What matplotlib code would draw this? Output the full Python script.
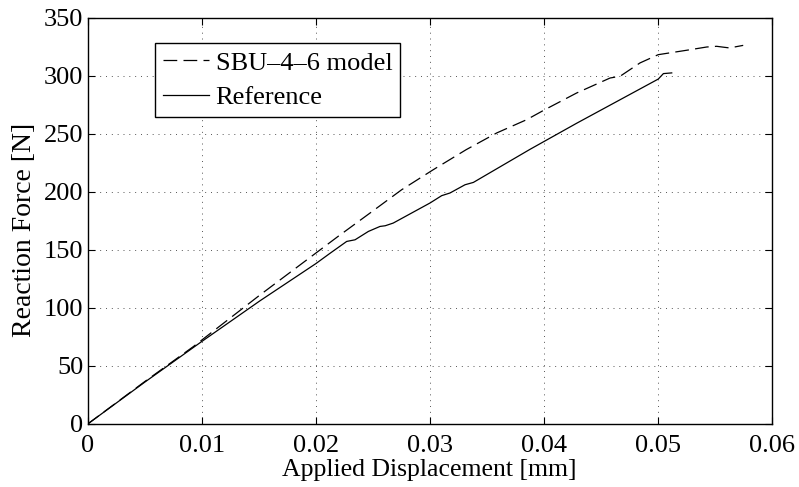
import matplotlib
matplotlib.use("Agg")
import matplotlib.pyplot as plt

# Data
ref_x = [0.0, 0.005, 0.010, 0.0151, 0.0200, 0.02126, 0.02272, 0.02345, 0.02462, 0.02564,
         0.0261, 0.0268, 0.03003, 0.03105, 0.03178, 0.0331, 0.03383, 0.0388, 0.0429,
         0.05005, 0.0505, 0.05123]
ref_y = [0.0, 36.0, 71.0, 106.0, 138.0, 147.0, 157.2, 158.6, 165.8, 170.1,
         170.7, 173.0, 190.3, 196.6, 198.9, 206.0, 208.0, 236.5, 259.0,
         297.0, 301.7, 302.3]

sbu_x = [0.0, 0.005, 0.00926, 0.0151, 0.02196, 0.02476, 0.02754, 0.03032, 0.0332,
         0.03588, 0.0385, 0.04011, 0.04289, 0.04582, 0.0467, 0.04845, 0.05005, 0.05254,
         0.0543, 0.05517, 0.0558, 0.0563, 0.0575]
sbu_y = [0.0, 36.5, 66.6, 111.0, 161.5, 181.6, 201.7, 219.0, 236.2,
         250.6, 262.0, 270.7, 285.0, 297.9, 299.4, 310.9, 318.0, 321.8,
         324.6, 325.2, 324.4, 323.8, 326.0]

x_ticks = [0, 0.01, 0.02, 0.03, 0.04, 0.05, 0.06]
x_tick_labels = ["0", "0.01", "0.02", "0.03", "0.04", "0.05", "0.06"]
y_ticks = [0, 50, 100, 150, 200, 250, 300, 350]

plt.rcParams['font.family'] = ['Liberation Serif', 'DejaVu Serif']

FS = 19
fig = plt.figure(figsize=(7.99, 4.87), dpi=100)
ax = fig.add_axes([87.7/799, 1 - 424/487, (771.7-87.7)/799, (424-17.5)/487])

ax.plot(sbu_x, sbu_y, color='black', lw=0.9, linestyle=(0, (11, 5)), label='SBU\u20134\u20136 model')
ax.plot(ref_x, ref_y, color='black', lw=0.9, linestyle='-', label='Reference')

ax.set_xlim(0, 0.06)
ax.set_ylim(0, 350)
ax.set_xticks(x_ticks)
ax.set_xticklabels(x_tick_labels)
ax.set_yticks(y_ticks)
ax.grid(True, linestyle=(0, (1, 5)), color='#555555', lw=0.7)
ax.tick_params(axis='both', direction='in', top=True, right=True, labelsize=FS, length=5, width=0.8)
ax.tick_params(axis='x', pad=8)
ax.tick_params(axis='y', pad=3)
for s in ax.spines.values():
    s.set_linewidth(1.0)

ax.set_xlabel('Applied Displacement [mm]', fontsize=18.5, labelpad=1.5)
ax.set_ylabel('Reaction Force [N]', fontsize=20)
ax.yaxis.set_label_coords((37 - 87.7) / 684, (424 - 230) / 406.5)

leg = ax.legend(loc='upper left', bbox_to_anchor=((155-87.7)/684, 1 - (43.3-17.5)/406.5),
                fontsize=FS, frameon=True, fancybox=False, framealpha=1, edgecolor='black',
                borderpad=0.3, labelspacing=0.42, handlelength=1.75, handletextpad=0.25,
                borderaxespad=0)
leg.get_frame().set_linewidth(1.0)

fig.savefig('out.png', dpi=100)
